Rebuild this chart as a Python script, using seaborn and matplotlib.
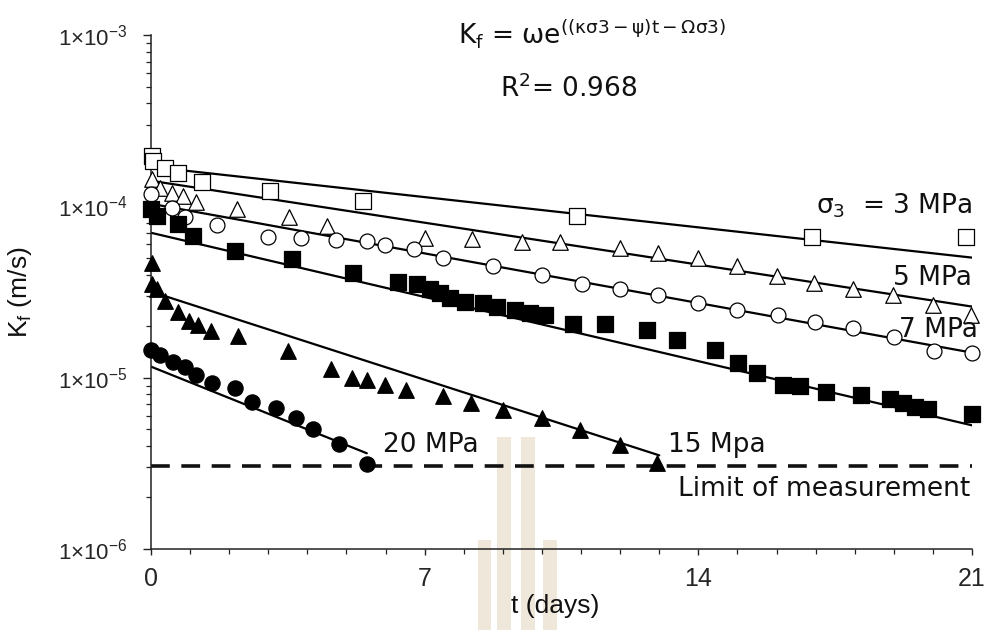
import numpy as np
import pandas as pd
import matplotlib
matplotlib.use("Agg")
import matplotlib.pyplot as plt
from matplotlib.patches import Rectangle
from matplotlib.ticker import FixedLocator, LogLocator, MultipleLocator, FuncFormatter, NullFormatter
import seaborn as sns

# ---------------- data ----------------
t3 = [0.03, 0.05, 0.36, 0.69, 1.30, 3.04, 5.42, 10.9, 16.9, 20.85]
k3 = [1.97e-4, 1.85e-4, 1.68e-4, 1.57e-4, 1.39e-4, 1.23e-4, 1.08e-4, 8.82e-5, 6.65e-5, 6.65e-5]

t5 = [0.03, 0.23, 0.54, 0.82, 1.15, 2.20, 3.53, 4.50, 7.01, 8.21, 9.49, 10.46, 11.99,
      12.97, 13.99, 14.99, 16.01, 16.96, 17.95, 18.98, 20.0, 20.97]
k5 = [1.45e-4, 1.28e-4, 1.20e-4, 1.15e-4, 1.06e-4, 9.68e-5, 8.70e-5, 7.71e-5, 6.57e-5, 6.48e-5,
      6.22e-5, 6.22e-5, 5.74e-5, 5.37e-5, 5.02e-5, 4.51e-5, 3.94e-5, 3.59e-5, 3.31e-5, 3.02e-5,
      2.64e-5, 2.31e-5]

t7 = [0.0, 0.54, 0.87, 1.69, 2.99, 3.84, 4.73, 5.52, 5.98, 6.73, 7.47, 8.75, 10.0, 11.02,
      11.99, 12.97, 13.99, 14.99, 16.04, 16.98, 17.95, 19.0, 20.03, 21.0]
k7 = [1.18e-4, 9.81e-5, 8.70e-5, 7.81e-5, 6.65e-5, 6.57e-5, 6.39e-5, 6.31e-5, 5.98e-5, 5.67e-5,
      5.02e-5, 4.51e-5, 4.00e-5, 3.54e-5, 3.31e-5, 3.02e-5, 2.71e-5, 2.47e-5, 2.31e-5, 2.10e-5,
      1.94e-5, 1.72e-5, 1.44e-5, 1.40e-5]

t10 = [0.0, 0.15, 0.69, 1.07, 2.15, 3.61, 5.17, 6.32, 6.80, 7.14, 7.39, 7.65, 8.03, 8.49, 8.85,
       9.31, 9.69, 10.08, 10.79, 11.61, 12.69, 13.45, 14.42, 15.01, 15.50, 16.16, 16.60, 17.26,
       18.16, 18.9, 19.23, 19.54, 19.87, 21.0]
k10 = [9.68e-5, 8.82e-5, 7.92e-5, 6.74e-5, 5.51e-5, 4.95e-5, 4.10e-5, 3.64e-5, 3.50e-5, 3.31e-5,
       3.14e-5, 2.90e-5, 2.75e-5, 2.71e-5, 2.57e-5, 2.47e-5, 2.37e-5, 2.31e-5, 2.07e-5, 2.07e-5,
       1.91e-5, 1.67e-5, 1.46e-5, 1.21e-5, 1.06e-5, 9.02e-6, 8.90e-6, 8.21e-6, 7.89e-6, 7.47e-6,
       7.09e-6, 6.71e-6, 6.54e-6, 6.11e-6]

t15 = [0.03, 0.03, 0.15, 0.36, 0.69, 0.97, 1.2, 1.53, 2.23, 3.5, 4.6, 5.14, 5.52, 5.98, 6.52,
       7.47, 8.18, 9.0, 10.0, 10.97, 11.99, 12.94]
k15 = [4.69e-5, 3.50e-5, 3.30e-5, 2.82e-5, 2.43e-5, 2.13e-5, 2.02e-5, 1.86e-5, 1.74e-5, 1.44e-5,
       1.13e-5, 1.00e-5, 9.64e-6, 9.02e-6, 8.43e-6, 7.78e-6, 7.09e-6, 6.45e-6, 5.79e-6, 4.93e-6,
       4.03e-6, 3.17e-6]

t20 = [0.0, 0.23, 0.56, 0.87, 1.15, 1.56, 2.15, 2.58, 3.2, 3.71, 4.14, 4.81, 5.52]
k20 = [1.46e-5, 1.35e-5, 1.24e-5, 1.15e-5, 1.03e-5, 9.26e-6, 8.66e-6, 7.18e-6, 6.63e-6,
       5.79e-6, 5.00e-6, 4.09e-6, 3.13e-6]

# fitted lines (start / end of each straight line on the log axis)
fit_names = ["3", "5", "7", "10", "15", "20"]
fit_t0 = [0, 0, 0, 0, 0, 0]
fit_t1 = [21, 21, 21, 21, 13.0, 5.52]
fit_k0 = [1.70e-4, 1.41e-4, 1.035e-4, 7.01e-5, 3.18e-5, 1.16e-5]
fit_k1 = [5.02e-5, 2.60e-5, 1.40e-5, 5.27e-6, 3.52e-6, 3.62e-6]

limit_k = 3.05e-6

ytick_vals = [1e-6, 1e-5, 1e-4, 1e-3]
ytick_exp = ["−6", "−5", "−4", "−3"]
xtick_vals = [0, 7, 14, 21]

# ---------------- style ----------------
sns.set_theme(style="white")
plt.rcParams["font.family"] = ["Liberation Sans", "DejaVu Sans"]
plt.rcParams["mathtext.default"] = "regular"

W, H = 984, 630
fig = plt.figure(figsize=(W / 100, H / 100), dpi=100)
ax = fig.add_axes([151 / W, (H - 549) / H, 821 / W, 514 / H])

def fx(x):
    return x / W

def fy(y):
    return 1 - y / H

# faint watermark (background decoration)
wm = "#efe7d9"
for (x0, y0, x1, y1) in [(497, 437, 511, 630), (521, 437, 535, 630),
                         (478, 540, 491, 630), (543, 540, 557, 630)]:
    fig.patches.append(Rectangle((fx(x0), fy(y1)), (x1 - x0) / W, (y1 - y0) / H,
                                 transform=fig.transFigure, color=wm, zorder=-5, lw=0))
ax.patch.set_alpha(0)
fig.patch.set_facecolor("white")

# fitted lines
fit_df = pd.DataFrame({
    "series": fit_names * 2,
    "t": fit_t0 + fit_t1,
    "K": fit_k0 + fit_k1,
})
for name in fit_names:
    sub = fit_df[fit_df["series"] == name]
    sns.lineplot(data=sub, x="t", y="K", color="black", lw=1.6, ax=ax,
                 zorder=2, legend=False, estimator=None, sort=True)

# limit of measurement
ax.axhline(limit_k, color="#111111", lw=2.6, dashes=(5.2, 3.2), zorder=2)

# markers
series = [
    (t3, k3, "s", "white", 125),
    (t5, k5, "^", "white", 125),
    (t7, k7, "o", "white", 115),
    (t10, k10, "s", "black", 125),
    (t15, k15, "^", "black", 125),
    (t20, k20, "o", "black", 120),
]
for tt, kk, m, fc, s in series:
    sns.scatterplot(x=tt, y=kk, marker=m, s=s, color=fc, edgecolor="black",
                    linewidth=0.9, ax=ax, zorder=3, clip_on=False, legend=False)

# axes
ax.set_yscale("log")
ax.set_xlim(0, 21)
ax.set_ylim(1e-6, 1e-3)
for side in ["top", "right"]:
    ax.spines[side].set_visible(False)
for side in ["left", "bottom"]:
    ax.spines[side].set_color("#222222")
    ax.spines[side].set_linewidth(1.1)

ax.yaxis.set_major_locator(FixedLocator(ytick_vals))
ax.yaxis.set_minor_locator(LogLocator(base=10, subs=np.arange(2, 10)))
ax.yaxis.set_minor_formatter(NullFormatter())
exp_map = dict(zip(ytick_vals, ytick_exp))
ax.yaxis.set_major_formatter(FuncFormatter(
    lambda v, p: "1×10$^{\\mathregular{%s}}$" % exp_map.get(v, "") if v in exp_map else ""))

ax.xaxis.set_major_locator(FixedLocator(xtick_vals))
ax.xaxis.set_minor_locator(MultipleLocator(1))

ax.tick_params(axis="y", which="major", direction="out", length=6, width=1.0,
               color="#222222", pad=11, labelsize=16, left=True)
ax.tick_params(axis="y", which="minor", direction="out", length=3.5, width=0.9,
               color="#222222", left=True)
ax.tick_params(axis="x", which="major", direction="out", length=4, width=1.0,
               color="#222222", pad=9, labelsize=18, bottom=True)
ax.tick_params(axis="x", which="minor", direction="out", length=3.5, width=0.9,
               color="#222222", bottom=True)
for lab in ax.get_xticklabels():
    lab.set_family(["Liberation Sans Narrow", "Liberation Sans"])

ax.set_xlabel("t (days)", fontsize=19, color="#111111")
ax.set_ylabel("K$_\\mathregular{f}$ (m/s)", fontsize=19, color="#111111")
ax.xaxis.set_label_coords((555 - 151) / 821, (549 - 594) / 514)
ax.yaxis.set_label_coords((34 - 151) / 821, 0.5)

# annotations
tk = dict(fontsize=19, family=["DejaVu Sans"], color="#111111")
fig.text(fx(458), fy(43), "K$_\\mathregular{f}$ = ωe$^{\\mathregular{((κσ3-ψ)t-Ωσ3)}}$",
         ha="left", va="baseline", **tk)
fig.text(fx(500), fy(97), "R$^\\mathregular{2}$= 0.968", ha="left", va="baseline", **tk)
fig.text(fx(972), fy(213), "σ$_\\mathregular{3}$  = 3 MPa", ha="right", va="baseline", **tk)
fig.text(fx(972), fy(285), "5 MPa", ha="right", va="baseline", **tk)
fig.text(fx(978), fy(337), "7 MPa", ha="right", va="baseline", **tk)
fig.text(fx(383), fy(452), "20 MPa", ha="left", va="baseline", **tk)
fig.text(fx(668), fy(452), "15 Mpa", ha="left", va="baseline", **tk)
fig.text(fx(970), fy(496), "Limit of measurement", ha="right", va="baseline", **tk)

fig.savefig("out.png", dpi=100)
